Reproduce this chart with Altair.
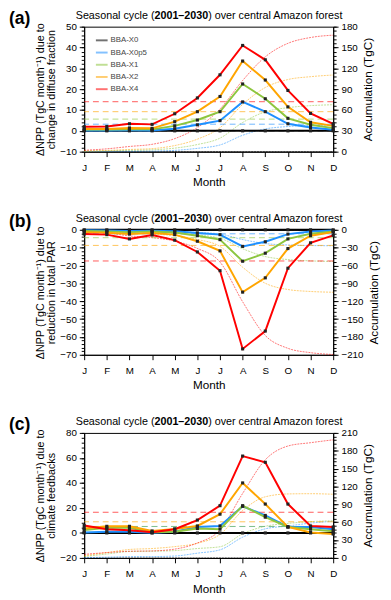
import json
import altair as alt
import pandas as pd

FONT = "Liberation Sans"

month_labels = ["J", "F", "M", "A", "M", "J", "J", "A", "S", "O", "N", "D"]
months = list(range(1, 13))
series_names = ["BBA-X0", "BBA-X0p5", "BBA-X1", "BBA-X2", "BBA-X4"]
series_colors = ["#000000", "#1E90FF", "#8DC63F", "#FFA500", "#FF0000"]

# Panel (a): change in diffuse fraction
a_x0 = [0, 0, 0, 0, 0, 0, 0, 0, 0, 0, 0, 0]
a_x0p5 = [0.2, 0.2, 0.3, 0.2, 1.0, 2.9, 4.9, 13.9, 9.2, 3.4, 1.6, 0.5]
a_x1 = [0.6, 0.6, 0.8, 0.7, 2.4, 5.2, 9.2, 22.5, 15.4, 6.0, 2.9, 1.3]
a_x2 = [0.9, 0.9, 1.4, 1.2, 4.4, 9.2, 16.5, 33.5, 24.4, 11.5, 4.1, 2.4]
a_x4 = [2.0, 2.1, 3.4, 3.1, 8.2, 15.8, 26.9, 41.0, 34.1, 19.4, 8.4, 3.4]

# Panel (b): reduction in total PAR
b_x0 = [0, 0, 0, 0, 0, 0, 0, 0, 0, 0, 0, 0]
b_x0p5 = [-0.3, -0.4, -0.6, -0.5, -0.8, -1.8, -2.7, -9.3, -6.7, -2.4, -0.9, -0.4]
b_x1 = [-0.7, -0.9, -1.3, -1.0, -1.5, -3.3, -5.5, -17.6, -13.1, -5.1, -2.2, -0.9]
b_x2 = [-1.3, -1.6, -2.4, -1.8, -2.7, -6.4, -11.8, -34.9, -26.9, -10.5, -3.3, -1.3]
b_x4 = [-2.4, -2.7, -5.1, -2.9, -5.8, -12.4, -22.9, -66.7, -56.7, -21.5, -7.3, -3.1]

# Panel (c): climate feedbacks
c_x0 = [0, 0, 0, 0, 0, 0, 0, 0, 0, 0, 0, 0]
c_x0p5 = [0.4, 0.9, 0.9, 0.1, 0.9, 4.8, 5.6, 21.3, 14.0, 4.8, 4.8, 3.0]
c_x1 = [2.4, 4.2, 4.2, 0.5, 1.0, 3.5, 3.0, 21.8, 12.6, 4.8, 3.0, 1.4]
c_x2 = [3.6, 5.3, 5.3, 1.6, 3.2, 5.6, 15.0, 40.0, 23.1, 4.8, 0.4, -0.9]
c_x4 = [6.0, 3.0, 2.2, 0.6, 3.0, 10.3, 21.8, 61.5, 56.5, 23.1, 5.6, 4.8]

title_parts = ["Seasonal cycle (", "2001\u20132030", ") over central Amazon forest"]
ylabel_a = ["\u0394NPP (TgC month\u207b\u00b9) due to", "change in diffuse fraction"]
ylabel_b = ["\u0394NPP (TgC month\u207b\u00b9) due to", "reduction in  total PAR"]
ylabel_c = ["\u0394NPP (TgC month\u207b\u00b9) due to", "climate feedbacks"]
right_title = "Accumulation (TgC)"

label_expr = json.dumps(month_labels) + "[datum.value - 1]"

PW, PH = 255, 128


def long_table(cols):
    rows = []
    for name, vals in zip(series_names, cols):
        for m, v in zip(months, vals):
            rows.append({"m": m, "series": name, "value": v})
    return pd.DataFrame(rows)


def color_enc(legend):
    return alt.Color("series:N", sort=series_names,
                     scale=alt.Scale(domain=series_names, range=series_colors),
                     legend=legend)


X_AXIS = alt.Axis(values=months, labelExpr=label_expr, title="Month",
                  titleFontSize=12, titleFontWeight="normal", titlePadding=5,
                  labelFontSize=10, labelPadding=6, tickSize=5, grid=False,
                  labelFlush=False, labelAngle=0)


def x_enc():
    return alt.X("m:Q", scale=alt.Scale(domain=[1, 12], nice=False, zero=False), axis=X_AXIS)


def txt(s, x, y, **kw):
    return alt.Chart(pd.DataFrame({"t": [s]})).mark_text(font=FONT, color="black", baseline="top", **kw).encode(
        text="t:N", x=alt.value(x), y=alt.value(y))


def panel(cols, letter, ylabel, ldom, lmaj, lmin, rdom, rmaj, rmin, legend):
    df = long_table(cols)
    base = alt.Chart(df)
    lscale = alt.Scale(domain=ldom, nice=False, zero=False)
    rscale = alt.Scale(domain=rdom, nice=False, zero=False)

    acc = base.transform_window(acc="sum(value)", frame=[None, 0],
                                groupby=["series"], sort=[alt.SortField("m")])
    acc_lines = acc.mark_line(strokeWidth=1, strokeDash=[2, 1], opacity=0.55,
                              interpolate="monotone").encode(
        x=x_enc(),
        y=alt.Y("acc:Q", scale=rscale,
                axis=alt.Axis(orient="right", values=rmaj, title=right_title,
                              titleAngle=270, titleBaseline="top", titleFontSize=12,
                              titleFontWeight="normal", titlePadding=6,
                              labelFontSize=10, labelPadding=3, tickSize=5, grid=False)),
        color=color_enc(legend))
    acc_minor = acc.mark_line(opacity=0).encode(
        x=x_enc(),
        y=alt.Y("acc:Q", scale=rscale,
                axis=alt.Axis(orient="right", values=rmin, labels=False, title=None,
                              tickSize=3, domain=False, grid=False)),
        detail="series:N")
    right = alt.layer(acc_lines, acc_minor).resolve_axis(y="independent")

    means = base.mark_rule(strokeDash=[6, 4], strokeWidth=1, opacity=0.65).encode(
        y=alt.Y("mean(value):Q", scale=lscale,
                axis=alt.Axis(orient="left", values=lmin, labels=False, title=None,
                              tickSize=3, domain=False, grid=False)),
        color=color_enc(legend))
    lines = base.mark_line(strokeWidth=2).encode(
        x=x_enc(),
        y=alt.Y("value:Q", scale=lscale,
                axis=alt.Axis(orient="left", values=lmaj, title=ylabel,
                              titleFontSize=11, titleFontWeight="normal", titlePadding=3,
                              titleLineHeight=12, labelFontSize=10, labelPadding=3,
                              tickSize=5, grid=False)),
        color=color_enc(legend))
    pts = base.mark_square(size=10, color="#222", opacity=1).encode(
        x=x_enc(),
        y=alt.Y("value:Q", scale=lscale, axis=None))

    t1 = txt(title_parts[0], 72, -17, fontSize=11, align="right")
    t2 = txt(title_parts[1], 72, -17, fontSize=11, align="left", fontWeight="bold")
    t3 = txt(title_parts[2], 127, -17, fontSize=11, align="left")
    tl = txt("(" + letter + ")", -77, -17, fontSize=18, align="left", fontWeight="bold")

    left = alt.layer(means, lines, pts, t1, t2, t3, tl).resolve_axis(y="independent")
    return alt.layer(right, left).resolve_scale(y="independent").properties(width=PW, height=PH)


legend_a = alt.Legend(orient="none", legendX=11, legendY=7, title=None,
                      symbolType="stroke", symbolSize=144, symbolStrokeWidth=2,
                      labelFontSize=8, labelColor="#444", labelFont=FONT,
                      rowPadding=1.5, labelOffset=2, padding=0)

pa = panel([a_x0, a_x0p5, a_x1, a_x2, a_x4], "a", ylabel_a,
           [-10, 50], list(range(-10, 51, 10)), list(range(-10, 51, 2)),
           [0, 180], list(range(0, 181, 30)), list(range(0, 181, 6)), legend_a)
pb = panel([b_x0, b_x0p5, b_x1, b_x2, b_x4], "b", ylabel_b,
           [-70, 0], list(range(-70, 1, 10)), list(range(-70, 1, 2)),
           [-210, 0], list(range(-210, 1, 30)), list(range(-210, 1, 6)), None)
pc = panel([c_x0, c_x0p5, c_x1, c_x2, c_x4], "c", ylabel_c,
           [-20, 80], list(range(-20, 81, 20)), list(range(-20, 81, 4)),
           [0, 210], list(range(0, 211, 30)), list(range(0, 211, 6)), None)

chart = alt.vconcat(pa, pb, pc, spacing=24).resolve_scale(color="independent").properties(
    padding={"left": 0, "top": -6, "right": 2, "bottom": 0}
).configure(font=FONT).configure_view(stroke="black", strokeWidth=1).configure_axis(
    domainColor="black", tickColor="black", labelColor="black", titleColor="black",
    labelFont=FONT, titleFont=FONT, domainWidth=1, tickWidth=1)

chart.save("out.html", embed_options={"renderer": "svg", "actions": False})
